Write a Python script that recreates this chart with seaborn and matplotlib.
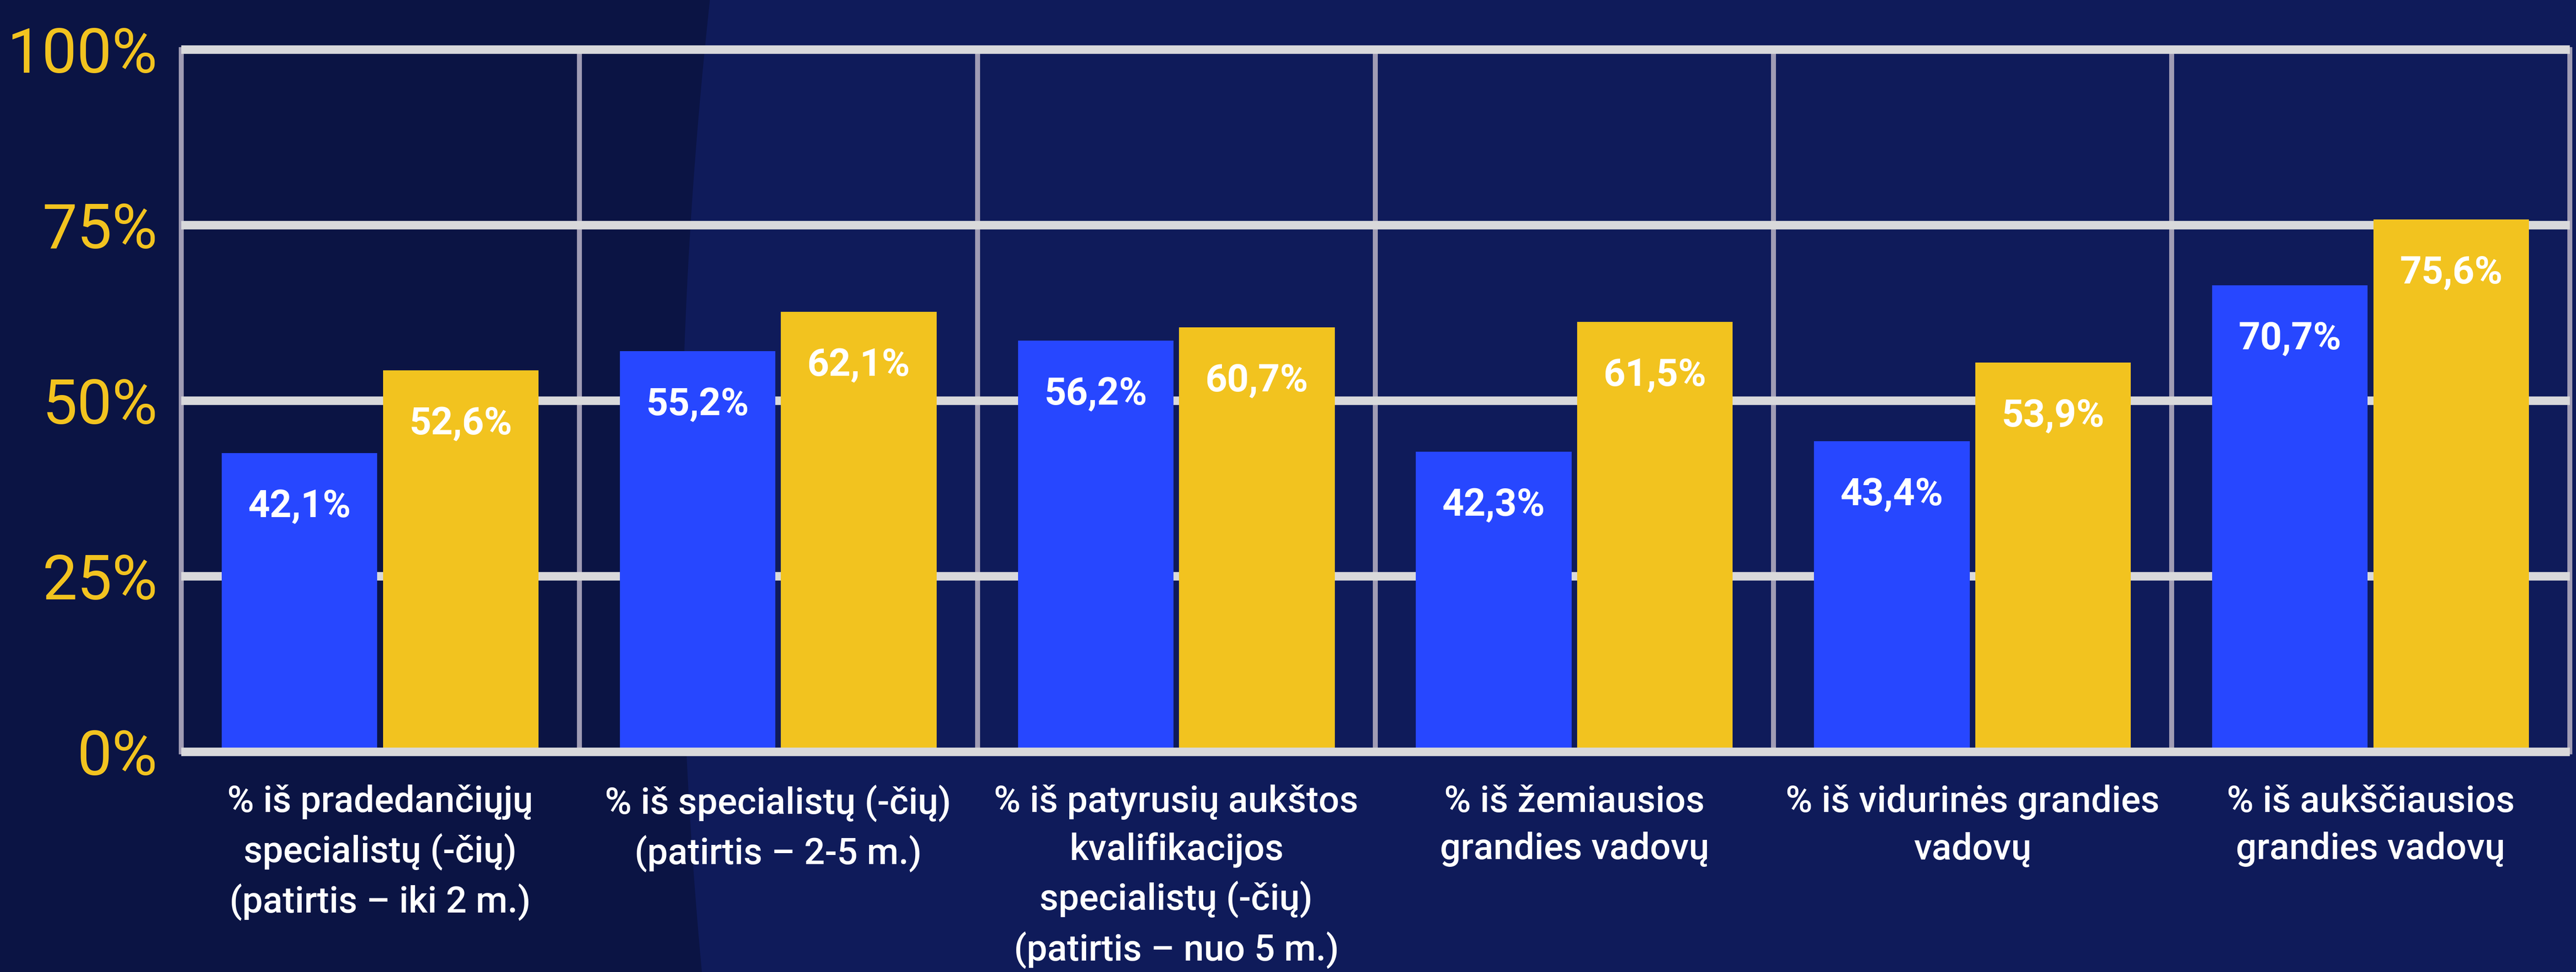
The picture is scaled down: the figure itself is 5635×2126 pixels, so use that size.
import numpy as np
import pandas as pd
import seaborn as sns
import matplotlib.pyplot as plt
from matplotlib.patches import Polygon

# Category labels (x axis)
categories = [
    "% iš pradedančiųjų\nspecialistų (-čių)\n(patirtis – iki 2 m.)",
    "% iš specialistų (-čių)\n(patirtis – 2-5 m.)",
    "% iš patyrusių aukštos\nkvalifikacijos\nspecialistų (-čių)\n(patirtis – nuo 5 m.)",
    "% iš žemiausios\ngrandies vadovų",
    "% iš vidurinės grandies\nvadovų",
    "% iš aukščiausios\ngrandies vadovų",
]
series = ["Grupė 1", "Grupė 2"]

# values printed on the bars
blue_labels = [42.1, 55.2, 56.2, 42.3, 43.4, 70.7]
yellow_labels = [52.6, 62.1, 60.7, 61.5, 53.9, 75.6]

# bar heights as they are drawn (not always equal to the printed value)
blue_heights = [42.5, 57.0, 58.5, 42.7, 44.2, 66.4]
yellow_heights = [54.3, 62.6, 60.4, 61.2, 55.4, 75.8]

y_ticks = [0, 25, 50, 75, 100]
y_tick_labels = ["0%", "25%", "50%", "75%", "100%"]

BG_DARK = "#0B1444"
BG = "#0F1B5A"
BLUE = "#2747FF"
YELLOW = "#F2C31F"
GRID = "#D9D9DB"
VLINE = "#A09CB4"

W, H, DPI = 5635, 2126, 200

df = pd.DataFrame({
    "kategorija": categories * 2,
    "serija": [series[0]] * len(categories) + [series[1]] * len(categories),
    "reiksme": blue_heights + yellow_heights,
})
label_values = [blue_labels, yellow_labels]

fig = plt.figure(figsize=(W / DPI, H / DPI), dpi=DPI, facecolor=BG)

# darker left panel of the background, slightly curved edge
ys = np.linspace(0, H, 60)
xs = 1490 + 4.76e-5 * (ys - 1150) ** 2
pts = [(0, 1)] + [(x / W, 1 - y / H) for x, y in zip(xs, ys)] + [(0, 0)]
fig.patches.append(Polygon(pts, closed=True, transform=fig.transFigure,
                           facecolor=BG_DARK, edgecolor="none", zorder=-5))

ax = fig.add_axes([396 / W, 1 - 1644 / H, (5621 - 396) / W, (1644 - 108) / H])
ax.patch.set_alpha(0)

sns.barplot(data=df, x="kategorija", y="reiksme", hue="serija",
            order=categories, hue_order=series, palette=[BLUE, YELLOW],
            saturation=1, width=0.81, gap=0.035, linewidth=0,
            legend=False, ax=ax, zorder=2)

ax.set_xlim(-0.5, len(categories) - 0.5)
ax.set_ylim(0, 100)

# grid: vertical separators behind, horizontal lines above them
for i in range(len(categories) + 1):
    ax.axvline(i - 0.5, color=VLINE, lw=3.9, zorder=0.5, clip_on=False)
for t in y_ticks:
    ax.axhline(t, color=GRID, lw=6.7, zorder=3 if t == 0 else 1,
               clip_on=False, solid_capstyle="butt")

# value labels inside the bars
for cont, vals in zip(ax.containers, label_values):
    for rect, v in zip(cont, vals):
        ax.annotate(f"{v:.1f}".replace(".", ",") + "%",
                    (rect.get_x() + rect.get_width() / 2, rect.get_height()),
                    xytext=(0, -50.4), textcoords="offset points",
                    ha="center", va="baseline", color="white",
                    fontsize=30, fontweight="bold", family="Roboto", zorder=4)

ax.set_yticks(y_ticks)
ax.set_yticklabels(y_tick_labels, family="Roboto", fontsize=49, color=YELLOW)
ax.set_xticks(range(len(categories)))
ax.set_xticklabels(categories, family="Roboto", fontsize=28.8, color="white",
                   fontweight="medium", linespacing=1.45)
ax.tick_params(axis="y", length=0, pad=18.4)
ax.tick_params(axis="x", length=0, pad=26)
ax.set(xlabel="", ylabel="")
for s in ax.spines.values():
    s.set_visible(False)

fig.savefig("out.png", dpi=DPI, facecolor=BG)
